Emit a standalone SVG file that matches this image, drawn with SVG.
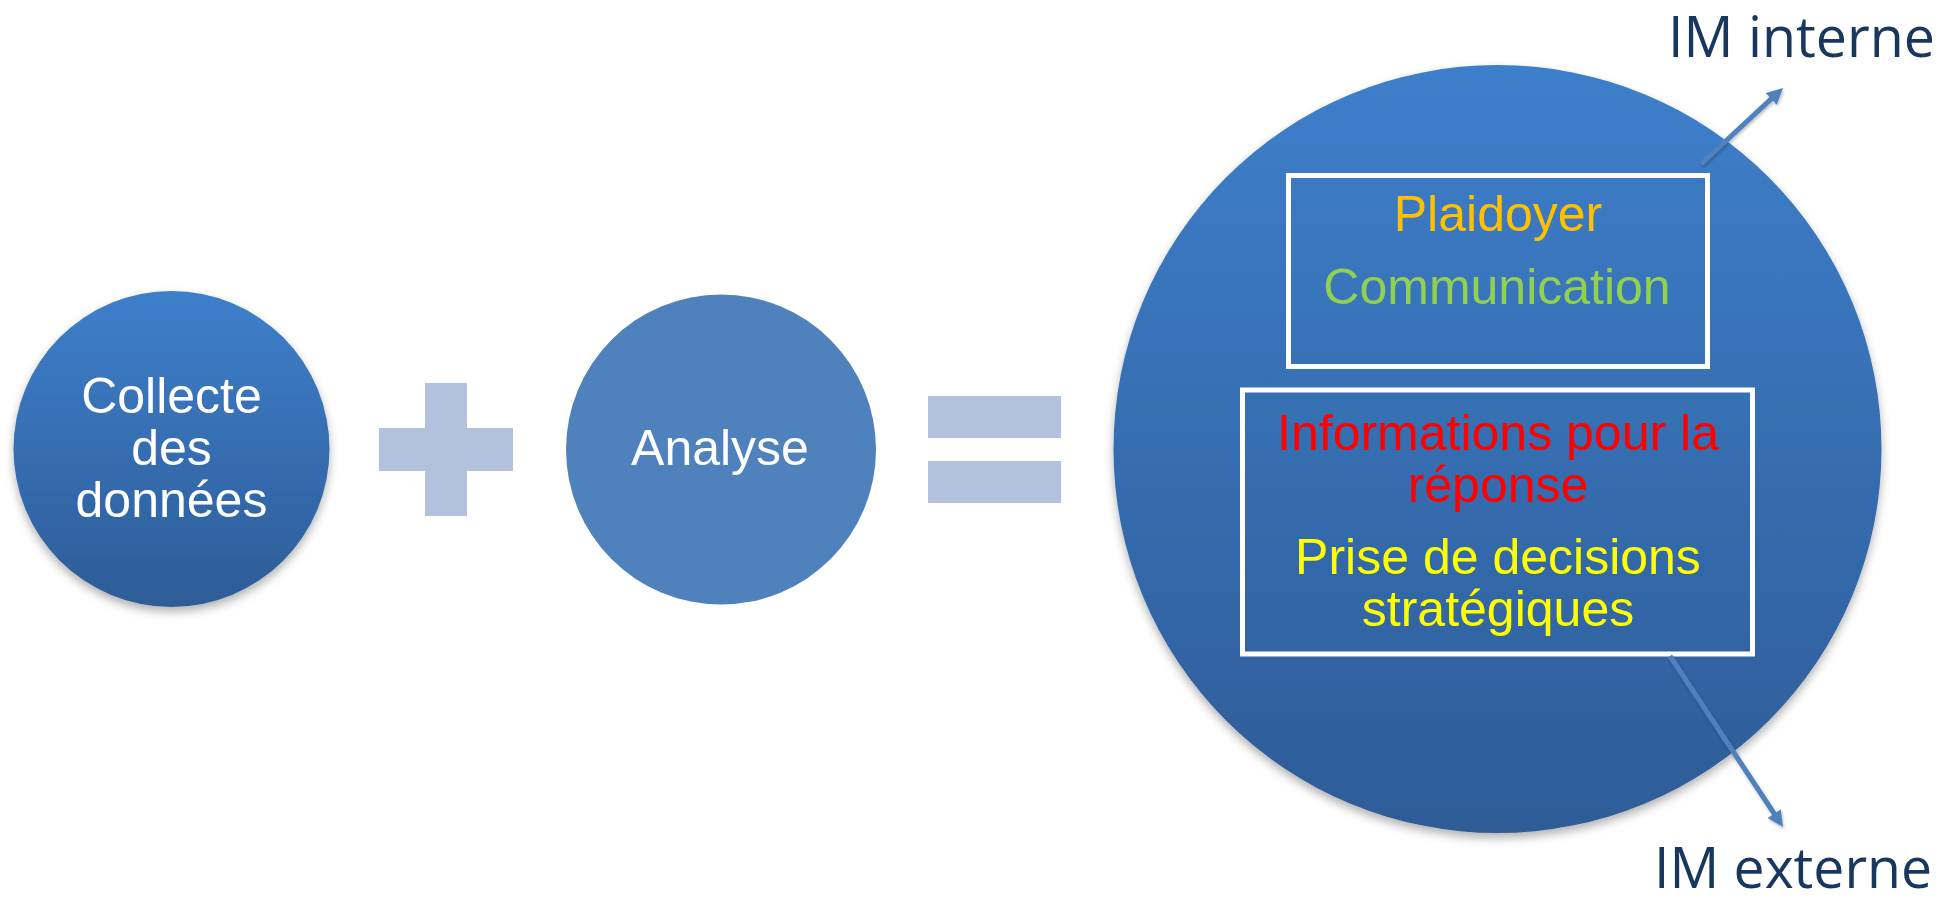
<svg xmlns="http://www.w3.org/2000/svg" width="1942" height="902" viewBox="0 0 1942 902">
  <style>
    .lbl { font-family: "Liberation Sans", Arial, sans-serif; font-size: 50px; text-anchor: middle; }
    .white { fill: #FFFFFF; }
    .im { font-family: "Open Sans", "Noto Sans", sans-serif; font-size: 56px; fill: #17375E; }
    .op { fill: #B2C2DD; }
    .box { fill: none; stroke: #FFFFFF; stroke-width: 5; }
    .conn { stroke: #4F81BD; stroke-width: 5; fill: none; }
  </style>
  <defs>
    <linearGradient id="blueGrad" x1="0" y1="0" x2="0" y2="1">
      <stop offset="0" stop-color="#3E7FCB"/>
      <stop offset="1" stop-color="#2D5C97"/>
    </linearGradient>
    <filter id="shadow" x="-20%" y="-20%" width="140%" height="150%">
      <feDropShadow dx="0" dy="5" stdDeviation="5" flood-color="#000000" flood-opacity="0.3"/>
    </filter>
    <filter id="lshadow" x="-30%" y="-30%" width="160%" height="160%">
      <feDropShadow dx="1" dy="2" stdDeviation="1.5" flood-color="#000000" flood-opacity="0.25"/>
    </filter>
    <marker id="arrow" markerUnits="userSpaceOnUse" markerWidth="16" markerHeight="16" refX="4" refY="8" orient="auto">
      <path d="M0,0 L16,8 L0,16 z" fill="#4F81BD"/>
    </marker>
  </defs>

  <rect x="0" y="0" width="1942" height="902" fill="#FFFFFF"/>

  <g id="node-collecte">
    <circle cx="171.5" cy="449" r="158" fill="url(#blueGrad)" filter="url(#shadow)"/>
    <text class="lbl white" x="171.5" y="413">Collecte</text>
    <text class="lbl white" x="171.5" y="465">des</text>
    <text class="lbl white" x="171.5" y="517">données</text>
  </g>

  <g id="node-plus">
    <rect class="op" x="425" y="383" width="42" height="133"/>
    <rect class="op" x="379" y="428" width="134" height="43"/>
  </g>

  <g id="node-analyse">
    <circle cx="721" cy="449.5" r="155" fill="#4F81BD"/>
    <text class="lbl white" x="720" y="465">Analyse</text>
  </g>

  <g id="node-equals">
    <rect class="op" x="928" y="396" width="133" height="42"/>
    <rect class="op" x="928" y="461" width="133" height="42"/>
  </g>

  <g id="node-result">
    <circle cx="1497.5" cy="449" r="384" fill="url(#blueGrad)" filter="url(#shadow)"/>
  </g>

  <g id="node-box-top">
    <rect class="box" x="1288.5" y="175.5" width="419" height="191"/>
    <text class="lbl" x="1498" y="231" fill="#FFC000">Plaidoyer</text>
    <text class="lbl" x="1497" y="304" fill="#92D050">Communication</text>
  </g>

  <g id="node-box-bottom">
    <rect class="box" x="1242.5" y="390" width="510" height="264"/>
    <text class="lbl" x="1498" y="450" fill="#FF0000">Informations pour la</text>
    <text class="lbl" x="1498" y="502" fill="#FF0000">réponse</text>
    <text class="lbl" x="1498" y="574" fill="#FFFF00">Prise de decisions</text>
    <text class="lbl" x="1498" y="626" fill="#FFFF00">stratégiques</text>
  </g>

  <g id="connectors" filter="url(#lshadow)">
    <line class="conn" x1="1701" y1="164" x2="1774.2" y2="96.2" marker-end="url(#arrow)"/>
    <line class="conn" x1="1670" y1="656" x2="1776.4" y2="817" marker-end="url(#arrow)"/>
  </g>

  <g id="label-im-interne">
    <text class="im" x="1668" y="57" textLength="267" lengthAdjust="spacingAndGlyphs">IM interne</text>
  </g>
  <g id="label-im-externe">
    <text class="im" x="1654" y="888" textLength="278" lengthAdjust="spacingAndGlyphs">IM externe</text>
  </g>
</svg>
